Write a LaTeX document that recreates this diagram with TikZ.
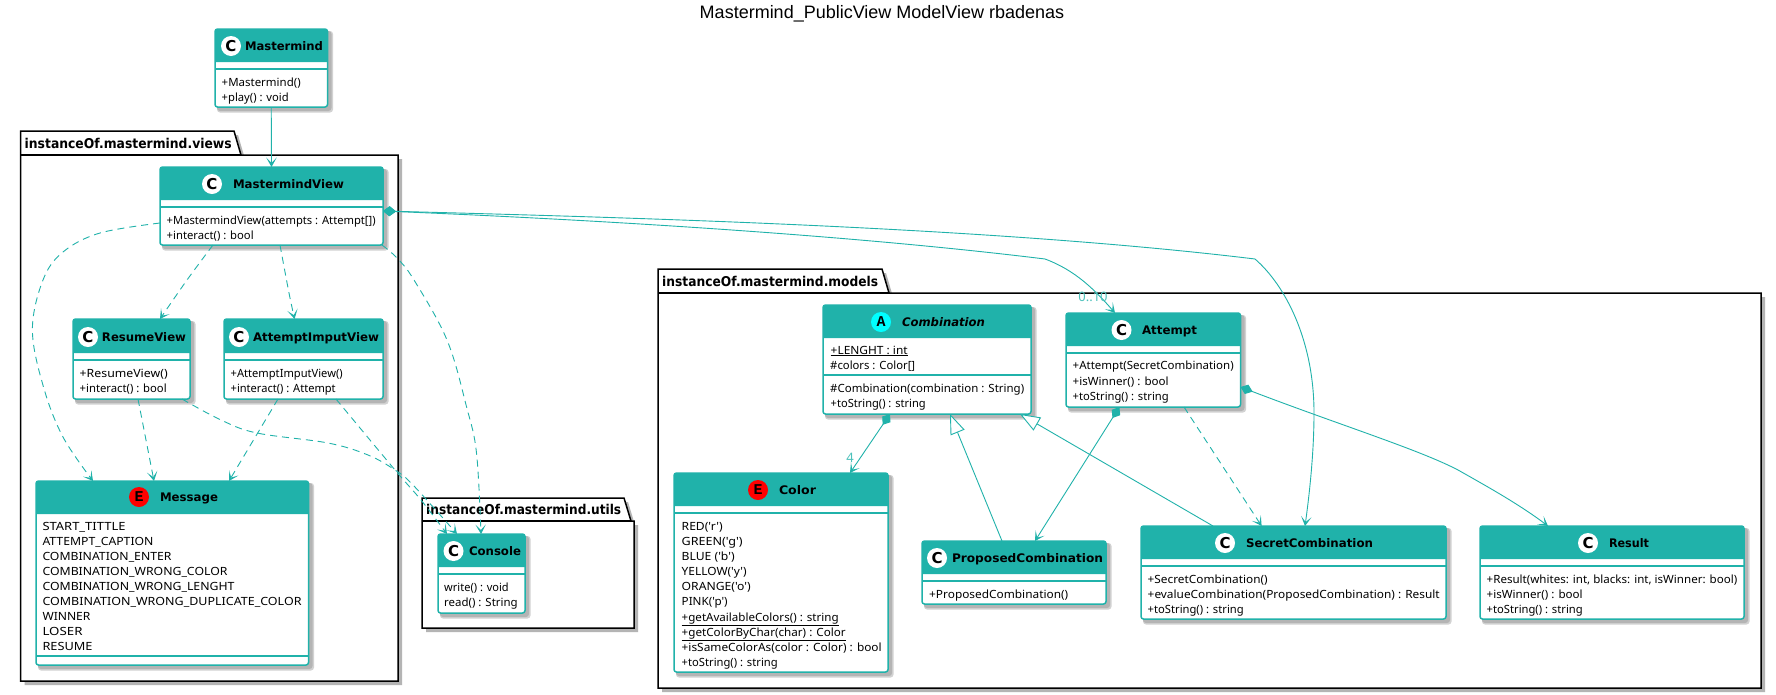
\documentclass[tikz,border=0pt]{standalone}
\usepackage{fontspec}
\usepackage{graphicx}
\usetikzlibrary{arrows.meta}
\setmainfont{Liberation Sans}
\newfontfamily\bodyf{Noto Sans}
\newfontfamily\headf{DejaVu Sans}
\newfontfamily\monof{Liberation Mono}
\definecolor{lsg}{HTML}{20B2AA}
\definecolor{shd}{HTML}{B4B4B4}
\definecolor{aqua}{HTML}{00FFFF}
\definecolor{pure}{HTML}{FF0000}
\newcount\tcnt
\tikzset{
  boxnode/.style={draw=lsg,line width=1.5pt,fill=white,rounded corners=2.5pt,inner sep=0pt,outer sep=0pt,anchor=north west},
  bodytxt/.style={anchor=base west,inner sep=0pt,font=\bodyf\fontsize{11.3}{13}\selectfont},
  titletxt/.style={anchor=base,inner sep=0pt,font=\headf\bfseries\fontsize{11.8}{13}\selectfont},
  pkgtxt/.style={anchor=base west,inner sep=0pt,font=\headf\bfseries\fontsize{13.5}{14}\selectfont},
  spot/.style={circle,inner sep=0pt,minimum size=20pt,outer sep=0pt},
  link/.style={draw=lsg,line width=.9pt},
  opentip/.style={-{Stealth[length=9.5pt,width=10.5pt,inset=5.5pt]}},
  dep/.style={link,opentip,dash pattern=on 7pt off 5pt},
  comp/.style={link,{Diamond[length=13pt,width=10pt]}-{Stealth[length=9.5pt,width=10.5pt,inset=5.5pt]}},
  inh/.style={link,-{Triangle[open,fill=white,length=20pt,width=15pt]}},
  card/.style={inner sep=0pt,text=lsg!80,font=\bodyf\fontsize{13}{14}\selectfont},
}
\newcommand\umlbox[6]{% name x1 y1 x2 y2 hdr
  \fill[shd!60,rounded corners=3pt] (#2+2,#3+2) rectangle (#4+5.5,#5+5.5);
  \fill[shd,rounded corners=3pt] (#2+2,#3+2) rectangle (#4+4,#5+4);
  \node[boxnode,minimum width={(#4-#2)*1pt},minimum height={(#5-#3)*1pt}] (#1) at (#2,#3) {};
  \fill[lsg] (#2,#6) [rounded corners=2.5pt] -- (#2,#3) -- (#4,#3) [sharp corners] -- (#4,#6) -- cycle;
}
\newcommand\usep[3]{\draw[lsg,line width=1.5pt] (#1,#3) -- (#2,#3);}
\newcommand\ttl[6][]{% opts name midx y width text
  \node[titletxt,#1] (#2-t) at (#3,#4+4.5) {\resizebox{#5pt}{\height}{#6}};}
\newcommand\cspot[4]{\node[spot,fill=#4] (#1-c) at (#2,#3) {\headf\bfseries\fontsize{15}{15}\selectfont C};}
\newcommand\lspot[5]{\node[spot,fill=#4] (#1-c) at (#2,#3) {\monof\bfseries\fontsize{15}{15}\selectfont #5};}
\newcommand\tl[4]{\global\advance\tcnt by 1 \node[bodytxt] (t\the\tcnt) at (#1,#2+4) {\resizebox{#3pt}{\height}{#4}};}
\newcommand\pkg[9]{% name x1 ytab xtab ybody x2 y2 width label
  \fill[shd] (#2+4,#3+4) -- (#4+4,#3+4) -- (#4+11,#5+4) -- (#6+4,#5+4) -- (#6+4,#7+4) -- (#2+4,#7+4) -- cycle;
  \draw[black,line width=1.5pt,fill=white] (#2,#3) -- (#4,#3) -- (#4+7,#5) -- (#6,#5) -- (#6,#7) -- (#2,#7) -- cycle;
  \draw[black,line width=1.5pt] (#2,#5) -- (#4+7,#5);
  \node[pkgtxt] (#1) at (#2+4,#5-7) {\resizebox{#8pt}{\height}{#9}};
}
\begin{document}
\begin{tikzpicture}[x=1pt,y=-1pt]
\useasboundingbox (0,0) rectangle (1776,694);
\fill[white] (0,0) rectangle (1776,694);
\node[inner sep=0pt,font=\fontsize{18}{20}\selectfont] (title) at (882,13.5) {Mastermind\_PublicView ModelView rbadenas};

% packages
\pkg{pviews}{20.5}{131}{234}{155}{398}{681}{207}{instanceOf.mastermind.views}
\pkg{putils}{422}{498}{624}{521}{634}{628}{195}{instanceOf.mastermind.utils}
\pkg{pmodels}{658}{269}{882}{293}{1761}{688}{216}{instanceOf.mastermind.models}

% Mastermind
\umlbox{m}{215}{29}{327.5}{107}{62}
\usep{215}{327.5}{69}
\cspot{m}{231}{46}{white}
\ttl{m}{284}{46}{78}{Mastermind}
\tl{221.5}{82}{79}{+Mastermind()}
\tl{221.5}{97}{67}{+play() : void}

% MastermindView
\umlbox{mv}{160}{167}{383}{245}{200}
\usep{160}{383}{207}
\cspot{mv}{212}{184}{white}
\ttl{mv}{288.5}{184}{111}{MastermindView}
\tl{166.5}{220}{209}{+MastermindView(attempts : Attempt[])}
\tl{166.5}{235}{87}{+interact() : bool}

% ResumeView
\umlbox{rv}{73}{319}{190}{399}{353}
\usep{73}{190}{360}
\cspot{rv}{88}{337}{white}
\ttl{rv}{144}{337}{84}{ResumeView}
\tl{79.5}{373}{88}{+ResumeView()}
\tl{79.5}{388}{87}{+interact() : bool}

% AttemptImputView
\umlbox{aiv}{224}{319}{383}{399}{353}
\usep{224}{383}{360}
\cspot{aiv}{239}{337}{white}
\ttl{aiv}{316}{337}{126}{AttemptImputView}
\tl{230.5}{373}{112}{+AttemptImputView()}
\tl{230.5}{388}{105}{+interact() : Attempt}

% Message
\umlbox{msg}{36}{481}{308.5}{665}{514}
\usep{36}{308.5}{656}
\lspot{msg}{139}{497}{pure}{E}
\ttl{msg}{189}{497}{58}{Message}
\tl{42.3}{526}{83}{START\_TITTLE}
\tl{42.3}{541}{111}{ATTEMPT\_CAPTION}
\tl{42.3}{556}{129}{COMBINATION\_ENTER}
\tl{42.3}{571}{185}{COMBINATION\_WRONG\_COLOR}
\tl{42.3}{586}{192}{COMBINATION\_WRONG\_LENGHT}
\tl{42.3}{601}{259}{COMBINATION\_WRONG\_DUPLICATE\_COLOR}
\tl{42.3}{616}{48}{WINNER}
\tl{42.3}{631}{40}{LOSER}
\tl{42.3}{646}{50}{RESUME}

% Console
\umlbox{con}{438}{534}{525}{613}{567}
\usep{438}{525}{574}
\cspot{con}{453.5}{551}{white}
\ttl{con}{495}{551}{52}{Console}
\tl{444}{587}{64.5}{write() : void}
\tl{444}{602}{73.5}{read() : String}

% Combination
\umlbox{comb}{823}{305}{1031}{414}{338}
\usep{823}{1031}{375}
\lspot{comb}{881}{322}{aqua}{A}
\ttl[font=\headf\bfseries\itshape\fontsize{11.8}{13}\selectfont]{comb}{943.5}{322}{83}{Combination}
\tl{830.5}{350}{77}{\underline{+LENGHT : int}}
\tl{830}{365}{85}{\#colors : Color[]}
\tl{830}{388}{194}{\#Combination(combination : String)}
\tl{830.5}{403}{95}{+toString() : string}

% Attempt
\umlbox{att}{1066}{313}{1240.5}{407}{346}
\usep{1066}{1240.5}{353}
\cspot{att}{1121.5}{330}{white}
\ttl{att}{1169.5}{330}{55}{Attempt}
\tl{1072.5}{365}{161}{+Attempt(SecretCombination)}
\tl{1072.5}{381}{96}{+isWinner() : bool}
\tl{1072.5}{396}{96}{+toString() : string}

% Color
\umlbox{col}{674}{473}{888}{672}{506}
\usep{674}{888}{513}
\lspot{col}{758}{490}{pure}{E}
\ttl{col}{797.5}{490}{37}{Color}
\tl{681.5}{526}{41}{RED('r')}
\tl{681.5}{541}{61}{GREEN('g')}
\tl{681.5}{556}{53}{BLUE ('b')}
\tl{681.5}{571}{65}{YELLOW('y')}
\tl{681.5}{586}{69}{ORANGE('o')}
\tl{681.5}{601.5}{46}{PINK('p')}
\tl{681.5}{617}{157}{\underline{+getAvailableColors() : string}}
\tl{681.5}{632}{164}{\underline{+getColorByChar(char) : Color}}
\tl{681.5}{647}{200}{+isSameColorAs(color : Color) : bool}
\tl{681.5}{662}{96}{+toString() : string}

% ProposedCombination
\umlbox{pc}{922}{541}{1106}{604}{574}
\usep{922}{1106}{581}
\cspot{pc}{937}{558}{white}
\ttl{pc}{1027.5}{558}{151}{ProposedCombination}
\tl{929}{594}{139}{+ProposedCombination()}

% SecretCombination
\umlbox{sc}{1141}{526}{1446}{619}{559}
\usep{1141}{1446}{566}
\cspot{sc}{1225}{543}{white}
\ttl{sc}{1309.5}{543}{127}{SecretCombination}
\tl{1147.5}{579}{120}{+SecretCombination()}
\tl{1147.5}{594}{292}{+evalueCombination(ProposedCombination) : Result}
\tl{1147.5}{609}{96}{+toString() : string}

% Result
\umlbox{res}{1480}{526}{1744}{619}{559}
\usep{1480}{1744}{566}
\cspot{res}{1588}{543}{white}
\ttl{res}{1629}{543}{40}{Result}
\tl{1486.5}{579}{250.5}{+Result(whites: int, blacks: int, isWinner: bool)}
\tl{1486.5}{594}{96}{+isWinner() : bool}
\tl{1486.5}{609}{96}{+toString() : string}

% connectors
\draw[link,opentip] (m.south) -- (mv.north);
\draw[dep] plot[smooth,tension=.6] coordinates {([yshift=-56pt]mv.north west) (100,233) (63,252) (43,280) (32.4,330) (43.5,387) (63,437) ([xshift=57pt]msg.north west)};
\draw[dep] plot[smooth,tension=.6] coordinates {([xshift=53pt]mv.south west) (187,280) ([xshift=87pt]rv.north west)};
\draw[dep] plot[smooth,tension=.6] coordinates {([xshift=120pt]mv.south west) (289,293) ([xshift=70.6pt]aiv.north west)};
\draw[dep] plot[smooth,tension=.6] coordinates {([xshift=222pt]mv.south west) (397,258) (414,280) (447,340) (466.6,407) (476.5,453) ([xshift=43pt]con.north west)};
\draw[dep] ([xshift=65pt]rv.south west) -- ([xshift=118pt]msg.north west);
\draw[dep] ([xshift=54pt]aiv.south west) -- ([xshift=193pt]msg.north west);
\draw[dep] plot[smooth,tension=.6] coordinates {([xshift=109pt]rv.south west) (221,420) (257,433) (328,443) (368,455) (395,470) (413,485) ([xshift=19pt]con.north west)};
\draw[dep] plot[smooth,tension=.6] coordinates {([xshift=112pt]aiv.south west) (395,470) (421,500) ([xshift=9pt]con.north west)};
\draw[comp] ([yshift=-44pt]mv.north east) .. controls (600,220) and (850,235) .. (1045,259) .. controls (1075,270) and (1095,290) .. ([xshift=49pt]att.north west);
\draw[comp] ([yshift=-44pt]mv.north east) .. controls (650,218) and (1000,228) .. (1255,259) .. controls (1285,285) and (1314,340) .. (1314,413) .. controls (1314,450) and (1310,490) .. ([xshift=164pt]sc.north west);
\draw[comp] ([xshift=67pt]comb.south west) -- ([xshift=176pt]col.north west);
\draw[comp] ([xshift=53.4pt]att.south west) -- ([xshift=113pt]pc.north west);
\draw[dep] ([xshift=118pt]att.south west) -- ([xshift=120.6pt]sc.north west);
\draw[comp] ([yshift=-74pt]att.north east) .. controls (1340,425) and (1420,450) .. (1458,470) .. controls (1490,488) and (1520,505) .. ([xshift=68pt]res.north west);
\draw[inh] ([xshift=80pt]pc.north west) -- ([xshift=127pt]comb.south west);
\draw[inh] ([xshift=72pt]sc.north west) -- ([xshift=197pt]comb.south west);
\node[card] (c010) at (1093,297) {0..10};
\node[card] (c4) at (850,458) {4};
\end{tikzpicture}
\end{document}
